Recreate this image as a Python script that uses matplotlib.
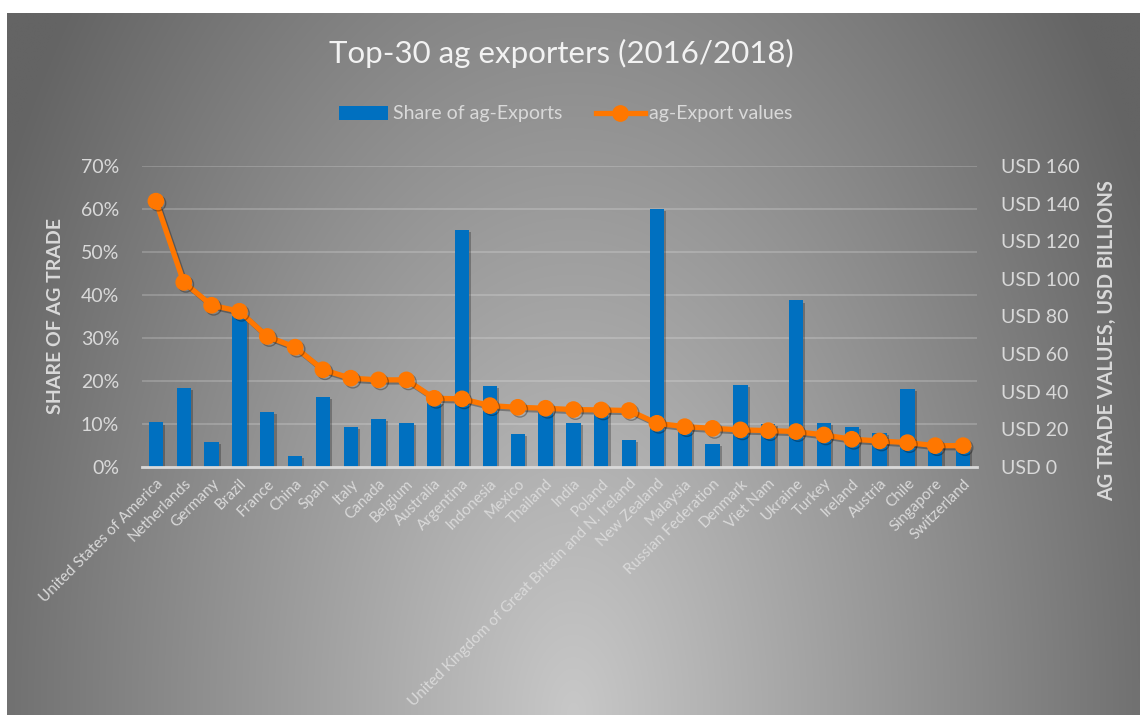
import numpy as np
import matplotlib
matplotlib.use("Agg")
import matplotlib.pyplot as plt
from matplotlib.patches import Patch
from matplotlib.lines import Line2D
import matplotlib.patheffects as pe

plt.rcParams['font.family'] = ['Lato', 'DejaVu Sans']

countries = ["United States of America", "Netherlands", "Germany", "Brazil", "France",
             "China", "Spain", "Italy", "Canada", "Belgium", "Australia", "Argentina",
             "Indonesia", "Mexico", "Thailand", "India", "Poland",
             "United Kingdom of Great Britain and N. Ireland", "New Zealand", "Malaysia",
             "Russian Federation", "Denmark", "Viet Nam", "Ukraine", "Turkey", "Ireland",
             "Austria", "Chile", "Singapore", "Switzerland"]
share = [0.103, 0.184, 0.058, 0.350, 0.128, 0.026, 0.163, 0.093, 0.112, 0.102,
         0.150, 0.551, 0.188, 0.076, 0.130, 0.101, 0.130, 0.062, 0.601, 0.100,
         0.053, 0.191, 0.100, 0.387, 0.102, 0.093, 0.078, 0.181, 0.055, 0.050]
values = [141.3, 98.1, 85.9, 82.7, 69.3, 63.6, 51.6, 47.1, 46.2, 46.2,
          36.4, 36.1, 32.5, 31.6, 31.1, 30.4, 30.2, 29.9, 23.1, 21.3,
          20.4, 19.6, 19.2, 18.7, 16.9, 14.6, 13.7, 12.8, 11.2, 11.2]
left_ticks = [0, 0.1, 0.2, 0.3, 0.4, 0.5, 0.6, 0.7]
left_labels = ["0%", "10%", "20%", "30%", "40%", "50%", "60%", "70%"]
right_ticks = [0, 20, 40, 60, 80, 100, 120, 140, 160]
right_labels = ["USD %d" % v for v in right_ticks]

W, H = 1140, 715
fig = plt.figure(figsize=(W / 100, H / 100), dpi=100)
fig.patch.set_facecolor("white")

# background gradient panel
bg = fig.add_axes([7 / W, 0, 1 - 7 / W, 702 / H])
bg.set_axis_off()
nx, ny = 400, 250
xs = np.linspace(0, 1, nx)
ys = np.linspace(1, 0, ny)  # top row first; y measured from bottom
X, Y = np.meshgrid(xs, ys)
d = np.sqrt(((X - 0.5) / 0.5) ** 2 + (Y / 1.4) ** 2)
f = np.clip(1 - d / 1.15, 0, 1)
c = (100 + 100 * f) / 255.0
img = np.dstack([c, c, c])
bg.imshow(img, aspect="auto", extent=[0, 1, 0, 1], interpolation="bilinear")
bg.set_xlim(0, 1)
bg.set_ylim(0, 1)

txt = "#d9d9d9"
ax = fig.add_axes([142 / W, (H - 466.7) / H, 835 / W, 300.7 / H])
ax.patch.set_alpha(0)
x = np.arange(len(countries))
bars = ax.bar(x, share, width=0.52, color="#0070C0", zorder=3,
              path_effects=[pe.withSimplePatchShadow(offset=(1.5, -1.5), shadow_rgbFace="k", alpha=0.25)])
ax.set_ylim(0, 0.7)
ax.set_xlim(-0.5, len(countries) - 0.5)
ax.set_yticks(left_ticks)
ax.set_yticklabels(left_labels)
ax.yaxis.grid(True, color="white", alpha=0.22, lw=1.2, zorder=0)
ax.set_axisbelow(True)
for s in ["top", "left", "right"]:
    ax.spines[s].set_visible(False)
ax.spines["bottom"].set_color("#d9d9d9")
ax.spines["bottom"].set_linewidth(2)
ax.spines["bottom"].set_zorder(4)
ax.tick_params(axis="both", length=0, colors=txt)
ax.tick_params(axis="y", labelsize=14, pad=16.5)
ax.set_xticks(x)
ax.set_xticklabels(countries, rotation=45, ha="right", va="top", rotation_mode="anchor",
                   fontsize=11, color=txt)
ax.tick_params(axis="x", pad=7)

ax2 = ax.twinx()
ax2.patch.set_alpha(0)
ax2.plot(x, values, color="#FF7700", lw=3.8, marker="o", markersize=11, zorder=5,
         path_effects=[pe.SimpleLineShadow(offset=(1.5, -1.5), shadow_color="k", alpha=0.3), pe.Normal()])
ax2.set_ylim(0, 160)
ax2.set_yticks(right_ticks)
ax2.set_yticklabels(right_labels)
for s in ["top", "left", "right", "bottom"]:
    ax2.spines[s].set_visible(False)
ax2.tick_params(axis="y", length=0, colors=txt, labelsize=14, pad=17)

fig.text(56 / W, 1 - 316 / H, "SHARE OF AG TRADE", rotation=90, ha="center", va="center",
         fontsize=14, fontweight="bold", color=txt)
fig.text(1107 / W, 1 - 341 / H, "AG TRADE VALUES, USD BILLIONS", rotation=90, ha="center",
         va="center", fontsize=14.3, fontweight="bold", color=txt)
fig.text(561 / W, 1 - 53 / H, "Top-30 ag exporters (2016/2018)", ha="center", va="center",
         fontsize=22.5, color="#f2f2f2")

handles = [Patch(facecolor="#0070C0", edgecolor="none"),
           Line2D([0], [0], color="#FF7700", lw=3.8, marker="o", markersize=11)]
leg = fig.legend(handles, ["Share of ag-Exports", "ag-Export values"], loc="center",
                 bbox_to_anchor=(566 / W, 1 - 114 / H), ncol=2, frameon=False, fontsize=14,
                 handlelength=2.5, handletextpad=0.25, columnspacing=1.75, labelcolor=txt)

fig.savefig("out.png", dpi=100, facecolor=fig.get_facecolor())
